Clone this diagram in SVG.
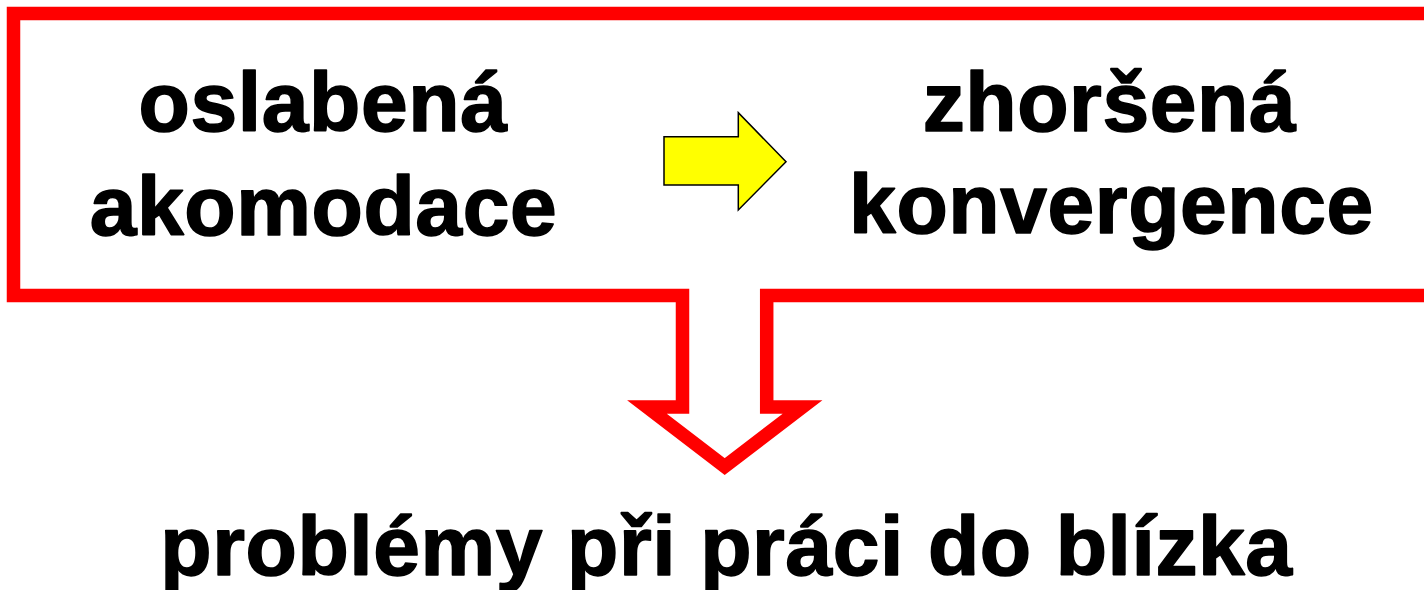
<svg xmlns="http://www.w3.org/2000/svg" width="1424" height="590" viewBox="0 0 1424 590">
<style>
.t{font-family:"Liberation Sans",Arial,sans-serif;font-weight:bold;font-size:84px;letter-spacing:0.6px;fill:#000;stroke:#000;stroke-width:1.6;stroke-linejoin:round;text-anchor:middle}
</style>
<rect width="1424" height="590" fill="#fff"/>
<g id="connectors">
<path id="frame-arrow" d="M13.5,13.5 H1440 V295.5 H766.7 V407 H802.5 L724.7,466.5 L647,407 H682.5 V295.5 H13.5 Z" fill="none" stroke="#ff0000" stroke-width="13.5" stroke-miterlimit="10"/>
<path id="yellow-arrow" d="M664,136.7 H738.3 V112.7 L786,161.7 L738.3,210 V185 H664 Z" fill="#ffff00" stroke="#000" stroke-width="1.5"/>
</g>
<g id="node-oslabena">
<text class="t" x="323" y="131">oslabená</text>
<text class="t" x="323.5" y="235">akomodace</text>
</g>
<g id="node-zhorsena">
<text class="t" x="1109.5" y="131">zhoršená</text>
<text class="t" x="1111.5" y="233">konvergence</text>
</g>
<g id="node-problemy">
<text class="t" x="726.5" y="575">problémy při práci do blízka</text>
</g>
</svg>
